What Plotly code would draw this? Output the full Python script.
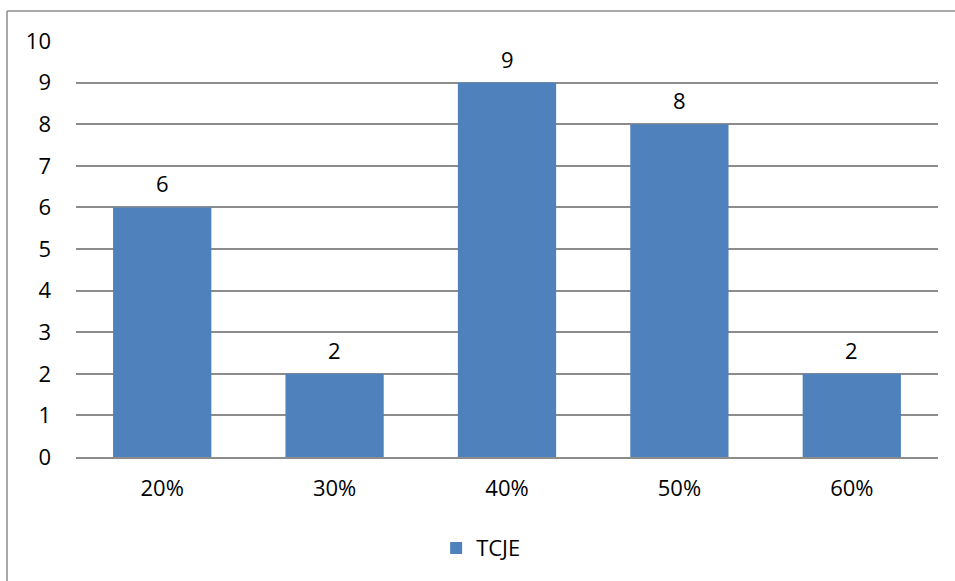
import plotly.graph_objects as go

categories = ["20%", "30%", "40%", "50%", "60%"]
values = [6, 2, 9, 8, 2]
series_name = "TCJE"
y_ticks = list(range(0, 11))

BAR = "#4F81BD"
GRID = "#8C8C8C"
FONT = "Open Sans, sans-serif"
FS = 22

fig = go.Figure()
fig.add_trace(go.Bar(
    x=categories, y=values, name=series_name,
    marker=dict(color=BAR, line=dict(color=BAR, width=0)),
    width=0.57,
))

for c, v in zip(categories, values):
    fig.add_annotation(x=c, y=v, text=str(v), showarrow=False,
                       yshift=24, font=dict(size=FS, color="black", family=FONT))

fig.update_layout(
    width=955, height=581,
    margin=dict(l=76, r=17, t=41, b=124),
    paper_bgcolor="white", plot_bgcolor="white",
    font=dict(family=FONT, size=FS, color="black"),
    showlegend=True,
    legend=dict(orientation="h", x=0.47, xanchor="center", y=-0.219, yanchor="middle",
                font=dict(size=FS), itemwidth=30),
    bargap=0.43,
)
fig.update_yaxes(range=[0, 10], tickvals=y_ticks, showgrid=True, gridcolor=GRID, gridwidth=1.5,
                 zeroline=False, showline=False, ticks="", ticklabelstandoff=24,
                 tickfont=dict(size=FS))
fig.update_xaxes(showline=True, linecolor=GRID, linewidth=1.5, ticks="", ticklabelstandoff=11,
                 tickfont=dict(size=FS))

# outer chart border (top and left visible)
top = (457 - 11) / 416
left = (7 - 76) / 862
fig.add_shape(type="line", xref="paper", yref="paper", x0=left, x1=1.2, y0=top, y1=top,
              line=dict(color="#8C8C8C", width=1.5))
fig.add_shape(type="line", xref="paper", yref="paper", x0=left, x1=left, y0=-0.5, y1=top,
              line=dict(color="#8C8C8C", width=1.5))

fig.write_html("out.html")
